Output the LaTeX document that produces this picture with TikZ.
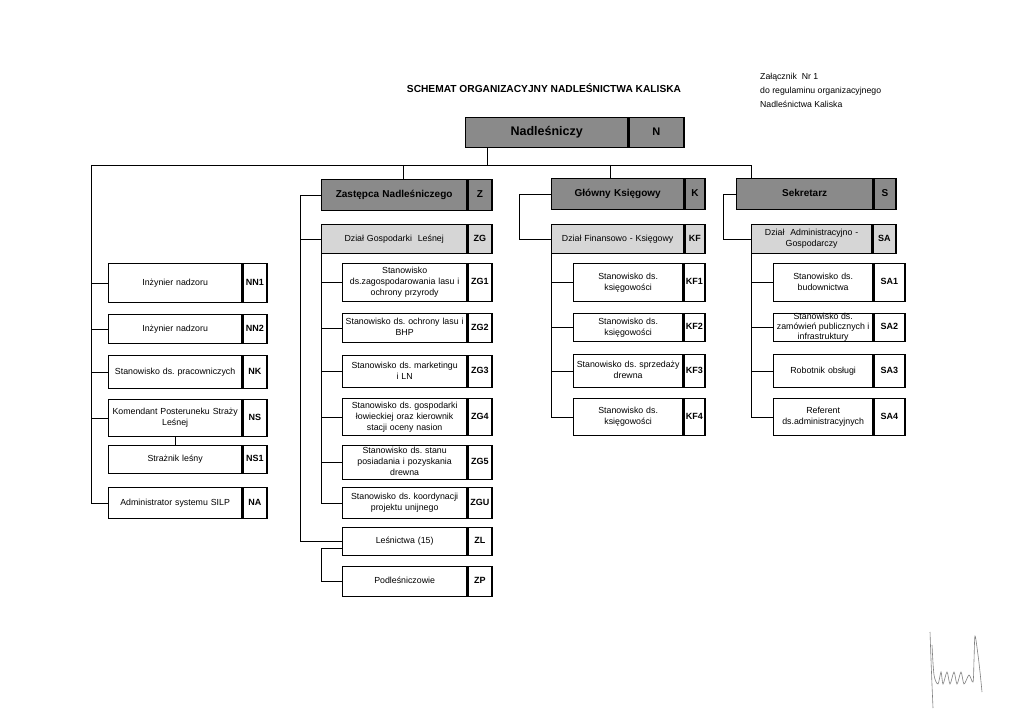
\documentclass[tikz,border=0pt]{standalone}
\usepackage{fontspec}
\setmainfont{Liberation Sans}
\frenchspacing
\definecolor{boxdark}{RGB}{138,138,138}
\definecolor{boxlight}{RGB}{214,214,214}
\usetikzlibrary{positioning}

\begin{document}
\begin{tikzpicture}[
  x=1pt, y=-1pt,
  cell/.style={draw, line width=1.3pt, anchor=north west, inner xsep=1pt, inner ysep=0pt, align=center,
    font=\fontsize{8.8}{11}\selectfont, execute at begin node={\strut}, execute at end node={\strut}},
  code/.style={cell, font=\bfseries\fontsize{9}{11}\selectfont},
  chief/.style={fill=boxdark, font=\bfseries\fontsize{10}{12}\selectfont},
  dept/.style={fill=boxlight},
  link/.style={line width=0.8pt}
]
  \useasboundingbox (0,0) rectangle (1024,719);
  \fill[white] (0,0) rectangle (1024,719);

  % headings
  \node[font=\bfseries\fontsize{10.2}{12}\selectfont] (title) at (544,88) {SCHEMAT ORGANIZACYJNY NADLEŚNICTWA KALISKA};
  \node[anchor=north west, align=left, inner sep=0pt, font=\fontsize{8.7}{14}\selectfont] (annex) at (760,73) {Załącznik\ \ Nr 1\\do regulaminu organizacyjnego\\Nadleśnictwa Kaliska};

  % top level
  \node[cell, chief, font=\bfseries\fontsize{12.5}{14}\selectfont, text width=160pt, minimum height=30pt] (n) at (465,117) {Nadleśniczy};
  \node[cell, chief, font=\bfseries\fontsize{11}{14}\selectfont, text width=53pt, minimum height=30pt] (nc) at (n.north east) {N};

  \node[cell, chief, text width=143pt, minimum height=31pt] (z) at (321,179) {Zastępca Nadleśniczego};
  \node[cell, chief, text width=22pt, minimum height=31pt] (zc) at (z.north east) {Z};
  \node[cell, chief, text width=130pt, minimum height=31pt] (k) at (551,178) {Główny Księgowy};
  \node[cell, chief, text width=18pt, minimum height=31pt] (kc) at (k.north east) {K};
  \node[cell, chief, text width=134pt, minimum height=31pt] (s) at (736,178) {Sekretarz};
  \node[cell, chief, text width=20pt, minimum height=31pt] (sc) at (s.north east) {S};

  % departments
  \node[cell, dept, text width=143pt, minimum height=29pt] (zg) at (321,224) {Dział Gospodarki\ \ Leśnej};
  \node[code, dept, text width=22pt, minimum height=29pt] (zgc) at (zg.north east) {ZG};
  \node[cell, dept, text width=130pt, minimum height=29pt] (kf) at (551,224) {Dział Finansowo - Księgowy};
  \node[code, dept, text width=18pt, minimum height=29pt] (kfc) at (kf.north east) {KF};
  \node[cell, dept, text width=118pt, minimum height=29pt] (sa) at (751,224) {Dział\ \ Administracyjno -\\Gospodarczy};
  \node[code, dept, text width=21pt, minimum height=29pt] (sac) at (sa.north east) {SA};

  % posts under Nadleśniczy
  \node[cell, text width=131pt, minimum height=39pt] (nn1) at (108,263) {Inżynier nadzoru};
  \node[code, text width=22pt, minimum height=39pt] (nn1c) at (nn1.north east) {NN1};
  \node[cell, text width=131pt, minimum height=29pt] (nn2) at (108,314) {Inżynier nadzoru};
  \node[code, text width=22pt, minimum height=29pt] (nn2c) at (nn2.north east) {NN2};
  \node[cell, text width=131pt, minimum height=33pt] (nk) at (108,355) {Stanowisko ds. pracowniczych};
  \node[code, text width=22pt, minimum height=33pt] (nkc) at (nk.north east) {NK};
  \node[cell, text width=131pt, minimum height=37pt] (ns) at (108,399) {Komendant Posteruneku Straży\\Leśnej};
  \node[code, text width=22pt, minimum height=37pt] (nsc) at (ns.north east) {NS};
  \node[cell, text width=131pt, minimum height=28pt] (ns1) at (108,445) {Strażnik leśny};
  \node[code, text width=22pt, minimum height=28pt] (ns1c) at (ns1.north east) {NS1};
  \node[cell, text width=131pt, minimum height=31pt] (na) at (108,487) {Administrator systemu SILP};
  \node[code, text width=22pt, minimum height=31pt] (nac) at (na.north east) {NA};

  % posts under Dział Gospodarki Leśnej
  \node[cell, text width=122pt, minimum height=38pt] (zg1) at (342,263) {Stanowisko\\ds.zagospodarowania lasu i\\ochrony przyrody};
  \node[code, text width=22pt, minimum height=38pt] (zg1c) at (zg1.north east) {ZG1};
  \node[cell, text width=122pt, minimum height=29pt] (zg2) at (342,313) {Stanowisko ds. ochrony lasu i\\BHP};
  \node[code, text width=22pt, minimum height=29pt] (zg2c) at (zg2.north east) {ZG2};
  \node[cell, text width=122pt, minimum height=32pt] (zg3) at (342,355) {Stanowisko ds. marketingu\\i LN};
  \node[code, text width=22pt, minimum height=32pt] (zg3c) at (zg3.north east) {ZG3};
  \node[cell, text width=122pt, minimum height=37pt] (zg4) at (342,398) {Stanowisko ds. gospodarki\\łowieckiej oraz kierownik\\stacji oceny nasion};
  \node[code, text width=22pt, minimum height=37pt] (zg4c) at (zg4.north east) {ZG4};
  \node[cell, text width=122pt, minimum height=34pt] (zg5) at (342,445) {Stanowisko ds. stanu\\posiadania i pozyskania\\drewna};
  \node[code, text width=22pt, minimum height=34pt] (zg5c) at (zg5.north east) {ZG5};
  \node[cell, text width=122pt, minimum height=31pt] (zgu) at (342,487) {Stanowisko ds. koordynacji\\projektu unijnego};
  \node[code, text width=22pt, minimum height=31pt] (zguc) at (zgu.north east) {ZGU};
  \node[cell, text width=122pt, minimum height=28pt] (zl) at (342,527) {Leśnictwa (15)};
  \node[code, text width=22pt, minimum height=28pt] (zlc) at (zl.north east) {ZL};
  \node[cell, text width=122pt, minimum height=30pt] (zp) at (342,566) {Podleśniczowie};
  \node[code, text width=22pt, minimum height=30pt] (zpc) at (zp.north east) {ZP};

  % posts under Dział Finansowo - Księgowy
  \node[cell, text width=107pt, minimum height=38pt] (kf1) at (573,263) {Stanowisko ds.\\księgowości};
  \node[code, text width=19pt, minimum height=38pt] (kf1c) at (kf1.north east) {KF1};
  \node[cell, text width=107pt, minimum height=28pt] (kf2) at (573,313) {Stanowisko ds.\\księgowości};
  \node[code, text width=19pt, minimum height=28pt] (kf2c) at (kf2.north east) {KF2};
  \node[cell, text width=107pt, minimum height=33pt] (kf3) at (573,354) {Stanowisko ds. sprzedaży\\drewna};
  \node[code, text width=19pt, minimum height=33pt] (kf3c) at (kf3.north east) {KF3};
  \node[cell, text width=107pt, minimum height=37pt] (kf4) at (573,398) {Stanowisko ds.\\księgowości};
  \node[code, text width=19pt, minimum height=37pt] (kf4c) at (kf4.north east) {KF4};

  % posts under Dział Administracyjno - Gospodarczy
  \node[cell, text width=97pt, minimum height=38pt] (sa1) at (773,263) {Stanowisko ds.\\budownictwa};
  \node[code, text width=29pt, minimum height=38pt] (sa1c) at (sa1.north east) {SA1};
  \node[cell, text width=97pt, minimum height=28pt] (sa2) at (773,313) {};
  \node[font=\fontsize{8.8}{10}\selectfont, align=center, inner sep=0pt] (sa2t) at (sa2.center) {Stanowisko ds.\\zamówień publicznych i\\infrastruktury};
  \node[code, text width=29pt, minimum height=28pt] (sa2c) at (sa2.north east) {SA2};
  \node[cell, text width=97pt, minimum height=33pt] (sa3) at (773,354) {Robotnik obsługi};
  \node[code, text width=29pt, minimum height=33pt] (sa3c) at (sa3.north east) {SA3};
  \node[cell, text width=97pt, minimum height=37pt] (sa4) at (773,398) {Referent\\ds.administracyjnych};
  \node[code, text width=29pt, minimum height=37pt] (sa4c) at (sa4.north east) {SA4};

  % bus under Nadleśniczy
  \coordinate (busl) at (91,165);
  \coordinate (busn) at (487,165);
  \coordinate (busz) at (403,165);
  \coordinate (busk) at (610,165);
  \coordinate (buss) at (751,165);
  \draw[link] (n.south -| busn) -- (busn);
  \draw[link] (busl) -- (buss) -- (buss |- s.north);
  \draw[link] (busz) -- (busz |- z.north);
  \draw[link] (busk) -- (busk |- k.north);

  % left column
  \draw[link] (busl) |- (na.west);
  \foreach \b in {nn1, nn2, nk, ns}
    \draw[link] (busl |- \b.west) -- (\b.west);
  \draw[link] (ns.south) -- (ns1.north);

  % Zastępca branch
  \draw[link] (z.west) -- ++(-21,0) coordinate (zbr) |- (zl.west);
  \draw[link] (zbr |- zg.west) -- (zg.west);
  \draw[link] (zg.south west) |- (zgu.west);
  \foreach \b in {zg1, zg2, zg3, zg4, zg5}
    \draw[link] (zg.south west |- \b.west) -- (\b.west);
  \draw[link] ([yshift=-7pt]zl.west) -- ++(-21,0) |- (zp.west);

  % Główny Księgowy branch
  \draw[link] (k.west) -- ++(-32,0) |- (kf.west);
  \draw[link] (kf.south west) |- (kf4.west);
  \foreach \b in {kf1, kf2, kf3}
    \draw[link] (kf.south west |- \b.west) -- (\b.west);

  % Sekretarz branch
  \draw[link] (s.west) -- ++(-13,0) |- (sa.west);
  \draw[link] (sa.south west) |- (sa4.west);
  \foreach \b in {sa1, sa2, sa3}
    \draw[link] (sa.south west |- \b.west) -- (\b.west);

  % signature
  \draw[gray, line width=0.6pt] plot[smooth] coordinates {(930,632) (931,660) (932,685) (933,708)};
  \draw[gray, line width=0.6pt] plot[smooth] coordinates {(932,645) (934,675) (938,684) (941,672) (943,684) (947,672) (950,684) (954,672) (957,684) (961,672) (964,684) (969,675) (973,682) (974,660) (975,636) (978,655) (980,672) (982,692)};
\end{tikzpicture}
\end{document}
